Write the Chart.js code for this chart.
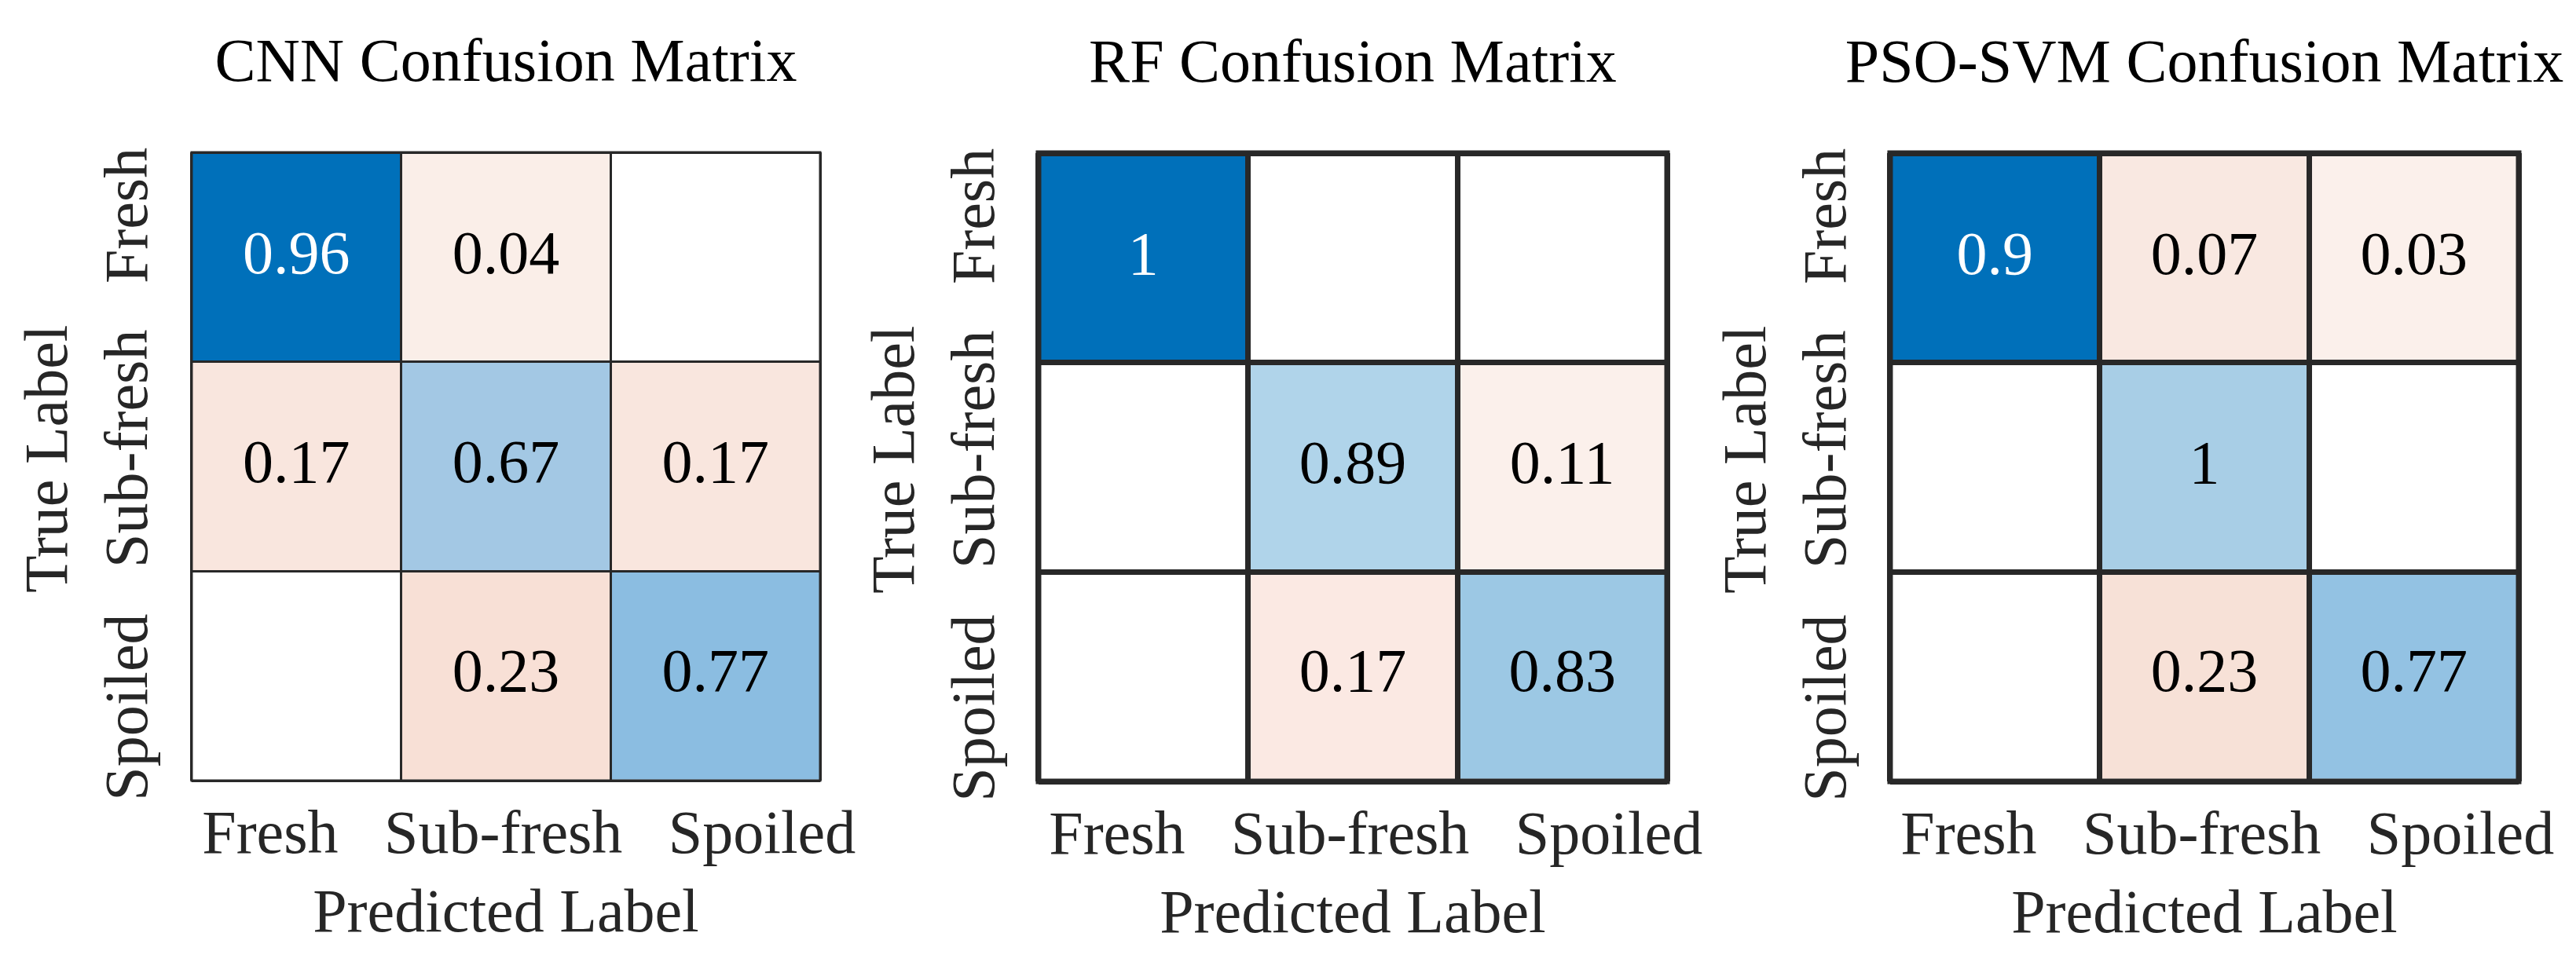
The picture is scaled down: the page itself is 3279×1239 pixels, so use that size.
<!DOCTYPE html>
<html>
<head>
<meta charset="utf-8">
<script src="https://cdn.jsdelivr.net/npm/chart.js@4.4.1/dist/chart.umd.min.js"></script>
<style>
  html, body { margin: 0; padding: 0; background: #ffffff; width: 3279px; height: 1239px; overflow: hidden; }
  .panel { position: absolute; height: 1239px; }
</style>
</head>
<body>
<div class="panel" style="left:0px; top:0px; width:1100px;"><canvas id="c0"></canvas></div>
<div class="panel" style="left:1078px; top:1px; width:1100px;"><canvas id="c1"></canvas></div>
<div class="panel" style="left:2162px; top:1px; width:1117px;"><canvas id="c2"></canvas></div>
<script>
// ---------------- data ----------------
const categories = ['Fresh', 'Sub-fresh', 'Spoiled'];
const xAxisName = 'Predicted Label';
const yAxisName = 'True Label';
const panelTitles = ['CNN Confusion Matrix', 'RF Confusion Matrix', 'PSO-SVM Confusion Matrix'];

// rows = true label (Fresh, Sub-fresh, Spoiled), cols = predicted label
const cnnValues = [
  [0.96, 0.04, 0],
  [0.17, 0.67, 0.17],
  [0,    0.23, 0.77]
];
const rfValues = [
  [1, 0,    0],
  [0, 0.89, 0.11],
  [0, 0.17, 0.83]
];
const psoValues = [
  [0.9, 0.07, 0.03],
  [0,   1,    0],
  [0,   0.23, 0.77]
];

// ---------------- style ----------------
const cnnColors = [
  ['#0070BA', '#FAEEE8', '#FFFFFF'],
  ['#F9E6DE', '#A3C8E4', '#F9E6DE'],
  ['#FFFFFF', '#F8E0D6', '#8BBDE1']
];
const rfColors = [
  ['#0070BA', '#FFFFFF', '#FFFFFF'],
  ['#FFFFFF', '#B0D4EA', '#FBF0EB'],
  ['#FFFFFF', '#FBE9E3', '#9CC8E4']
];
const psoColors = [
  ['#0070BA', '#F9E8E1', '#FBF0EB'],
  ['#FFFFFF', '#A8CEE6', '#FFFFFF'],
  ['#FFFFFF', '#F7E1D7', '#93C2E3']
];
const lineWidths = [3, 7, 7];
const lineColor = '#282828';
const FONT = "'Times New Roman', 'Liberation Serif', serif";
const FS = 78;
const NB = '\u00A0';          // non-collapsing space
const GAP = NB + NB + NB;

Chart.defaults.font.family = FONT;

function isDark(hex) {
  const r = parseInt(hex.substr(1, 2), 16) / 255;
  const g = parseInt(hex.substr(3, 2), 16) / 255;
  const b = parseInt(hex.substr(5, 2), 16) / 255;
  return (0.2126 * r + 0.7152 * g + 0.0722 * b) < 0.4;
}
function fmt(v) { return String(v); }

const cellText = {
  id: 'cellText',
  afterDatasetsDraw(chart) {
    const ctx = chart.ctx;
    ctx.save();
    ctx.font = FS + 'px ' + FONT;
    ctx.textAlign = 'center';
    ctx.textBaseline = 'middle';
    chart.data.datasets.forEach((ds, i) => {
      const meta = chart.getDatasetMeta(i);
      meta.data.forEach((bar, j) => {
        const v = ds.cellValues[j];
        if (!v) return;
        const p = bar.getProps(['x', 'y', 'base'], true);
        ctx.fillStyle = isDark(ds.backgroundColor[j]) ? '#FFFFFF' : '#000000';
        ctx.fillText(fmt(v), p.x, (p.y + p.base) / 2);
      });
    });
    ctx.restore();
  }
};

const frameAndTitle = {
  id: 'frameAndTitle',
  afterDraw(chart, args, opts) {
    const ctx = chart.ctx;
    const a = chart.chartArea;
    ctx.save();
    ctx.strokeStyle = lineColor;
    ctx.lineWidth = opts.lineWidth;
    ctx.strokeRect(a.left, a.top, a.right - a.left, a.bottom - a.top);
    ctx.fillStyle = '#000000';
    ctx.font = FS + 'px ' + FONT;
    ctx.textAlign = 'center';
    ctx.textBaseline = 'alphabetic';
    ctx.fillText(opts.text, (a.left + a.right) / 2, a.top - 91);
    ctx.restore();
  }
};

function makeChart(canvasId, values, colors, title, lw, containerWidth) {
  const datasets = [];
  for (let r = categories.length - 1; r >= 0; r--) {
    datasets.push({
      label: categories[r],
      data: categories.map(() => 1),
      cellValues: values[r],
      backgroundColor: colors[r],
      borderWidth: 0,
      barPercentage: 1,
      categoryPercentage: 1,
      stack: 'm'
    });
  }
  // the category names are written as one spaced row, centred under the middle column
  const xLine = GAP + categories.join(GAP);
  const yLine = categories.slice().reverse().join(GAP) + NB;
  const mid = Math.floor(categories.length / 2);
  return new Chart(document.getElementById(canvasId), {
    type: 'bar',
    data: { labels: categories, datasets },
    options: {
      responsive: true,
      maintainAspectRatio: false,
      animation: false,
      layout: { padding: { left: 0, right: containerWidth - 1044, top: 194, bottom: 0 } },
      plugins: {
        legend: { display: false },
        tooltip: { enabled: false },
        title: { display: false },
        frameAndTitle: { text: title, lineWidth: lw }
      },
      scales: {
        x: {
          type: 'category',
          stacked: true,
          offset: true,
          ticks: {
            display: true,
            autoSkip: false,
            minRotation: 0,
            maxRotation: 0,
            padding: 25.2,
            color: '#262626',
            font: { family: FONT, size: FS, lineHeight: 1.2 },
            callback: (val, idx) => (idx === mid ? xLine : '')
          },
          border: { display: false },
          grid: { offset: true, color: lineColor, lineWidth: lw, z: 1, drawTicks: false },
          title: {
            display: true,
            text: xAxisName,
            color: '#262626',
            font: { family: FONT, size: FS, lineHeight: 0.7 },
            padding: { top: 0, bottom: 46.4 }
          }
        },
        y: {
          type: 'linear',
          stacked: true,
          min: 0,
          max: categories.length,
          ticks: { display: false, stepSize: 1 },
          border: { display: false },
          grid: { color: lineColor, lineWidth: lw, z: 1, drawTicks: false },
          title: {
            display: true,
            text: [NB + yAxisName, yLine],
            color: '#262626',
            font: { family: FONT, size: FS, lineHeight: 1.31 },
            padding: { top: 13, bottom: 26.6 }
          }
        }
      }
    },
    plugins: [cellText, frameAndTitle]
  });
}

makeChart('c0', cnnValues, cnnColors, panelTitles[0], lineWidths[0], 1100);
makeChart('c1', rfValues, rfColors, panelTitles[1], lineWidths[1], 1100);
makeChart('c2', psoValues, psoColors, panelTitles[2], lineWidths[2], 1117);
</script>
</body>
</html>
